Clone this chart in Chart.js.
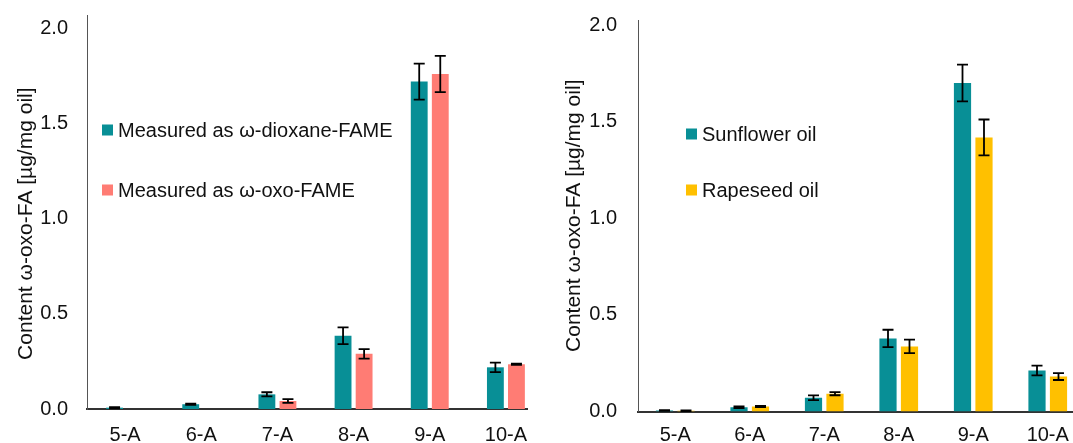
<!DOCTYPE html>
<html>
<head>
<meta charset="utf-8">
<script src="https://cdn.jsdelivr.net/npm/chart.js@4"></script>
<style>
  html, body { margin: 0; padding: 0; background: #fff; overflow: hidden; }
  .wrap { position: absolute; top: 0; height: 443px; overflow: hidden; }
</style>
</head>
<body>
<div class="wrap" style="left:0;width:528px;"><canvas id="chartLeft" width="548" height="443"></canvas></div>
<div class="wrap" style="left:540px;width:533px;"><canvas id="chartRight" width="549" height="443"></canvas></div>
<script>
const categories = ['5-A', '6-A', '7-A', '8-A', '9-A', '10-A'];
const yTicks = [0, 0.5, 1.0, 1.5, 2.0];
const yTitle = 'Content ω-oxo-FA [µg/mg oil]';

// left chart: same samples, two ways of measuring
const dioxaneVals = [0.007, 0.025, 0.077, 0.385, 1.72, 0.219];
const dioxaneErr = [0.003, 0.003, 0.011, 0.044, 0.095, 0.025];
const oxoVals = [0, 0, 0.042, 0.29, 1.76, 0.235];
const oxoErr = [0, 0, 0.01, 0.025, 0.095, 0.003];

// right chart: two oils
const sunflowerVals = [0.005, 0.022, 0.071, 0.378, 1.70, 0.212];
const sunflowerErr = [0.002, 0.004, 0.012, 0.045, 0.095, 0.025];
const rapeseedVals = [0.004, 0.026, 0.092, 0.337, 1.418, 0.181];
const rapeseedErr = [0.002, 0.003, 0.008, 0.035, 0.093, 0.018];

const TEAL = 'rgb(8, 143, 150)';
const PINK = 'rgb(255, 124, 116)';
const YELLOW = 'rgb(255, 192, 0)';
const FONT = "'Liberation Sans', Arial, sans-serif";

Chart.defaults.font.family = FONT;
Chart.defaults.color = '#111';

// error bars from dataset.errors
const errorBars = {
    id: 'errorBars',
    afterDatasetsDraw(chart) {
        const ctx = chart.ctx;
        const y = chart.scales.y;
        ctx.save();
        ctx.strokeStyle = '#000';
        ctx.lineWidth = 1.8;
        chart.data.datasets.forEach((ds, i) => {
            const meta = chart.getDatasetMeta(i);
            meta.data.forEach((bar, j) => {
                const v = ds.data[j], e = ds.errors[j];
                if (!e) return;
                const yHi = y.getPixelForValue(v + e);
                const yLo = y.getPixelForValue(v - e);
                const cap = 5.5;
                ctx.beginPath();
                ctx.moveTo(bar.x, yHi); ctx.lineTo(bar.x, yLo);
                ctx.moveTo(bar.x - cap, yHi); ctx.lineTo(bar.x + cap, yHi);
                ctx.moveTo(bar.x - cap, yLo); ctx.lineTo(bar.x + cap, yLo);
                ctx.stroke();
            });
        });
        ctx.restore();
    }
};

// legend drawn inside the plot
const innerLegend = {
    id: 'innerLegend',
    afterDraw(chart, args, opts) {
        const ctx = chart.ctx;
        ctx.save();
        ctx.font = '20px ' + FONT;
        ctx.textBaseline = 'middle';
        chart.data.datasets.forEach((ds, i) => {
            const yy = opts.y + i * opts.gap;
            ctx.fillStyle = ds.backgroundColor;
            ctx.fillRect(opts.x, yy - 5.5, 11, 11);
            ctx.fillStyle = '#111';
            ctx.fillText(ds.label, opts.x + 16, yy + 1);
        });
        ctx.restore();
    }
};

function makeChart(id, sets, o) {
    return new Chart(document.getElementById(id).getContext('2d'), {
        type: 'bar',
        data: {
            labels: categories,
            datasets: sets.map(s => ({
                label: s.label,
                data: s.data,
                errors: s.errors,
                backgroundColor: s.color,
                borderWidth: 0,
                categoryPercentage: o.cp,
                barPercentage: 0.8
            }))
        },
        options: {
            responsive: false,
            animation: false,
            layout: { padding: { top: o.top, right: 4, left: 0, bottom: 0 } },
            plugins: {
                legend: { display: false },
                tooltip: { enabled: false },
                innerLegend: o.legend
            },
            scales: {
                x: {
                    grid: { display: false, drawTicks: false },
                    border: { display: true, color: '#333', width: 2 },
                    ticks: { font: { size: 20 }, padding: o.xPad, maxRotation: 0 },
                    afterFit: (s) => { s.height = o.xHeight; }
                },
                y: {
                    min: 0,
                    max: o.max,
                    grid: { display: false, drawTicks: false },
                    border: { display: true, color: '#555', width: 1 },
                    afterBuildTicks: (s) => { s.ticks = yTicks.map(v => ({ value: v })); },
                    ticks: {
                        font: { size: 20 },
                        padding: o.yPad,
                        callback: (v) => v.toFixed(1)
                    },
                    title: {
                        display: true,
                        // trailing spaces nudge the rotated title a little lower
                        text: yTitle + '\u00a0'.repeat(o.titleShift),
                        font: { size: 21 },
                        padding: { top: o.titlePad, bottom: 0 }
                    },
                    afterFit: (s) => {
                        s.width = o.yWidth;
                        s.paddingTop = 0;
                        s.paddingBottom = 0;
                    }
                }
            }
        },
        plugins: [errorBars, innerLegend]
    });
}

makeChart('chartLeft', [
    { label: 'Measured as ω-dioxane-FAME', data: dioxaneVals, errors: dioxaneErr, color: TEAL },
    { label: 'Measured as ω-oxo-FAME', data: oxoVals, errors: oxoErr, color: PINK }
], { top: 15, max: 2.07, xHeight: 34, xPad: 14, yPad: 19, yWidth: 87, titlePad: 14, titleShift: 4, cp: 0.553,
     legend: { x: 102, y: 130, gap: 60 } });

makeChart('chartRight', [
    { label: 'Sunflower oil', data: sunflowerVals, errors: sunflowerErr, color: TEAL },
    { label: 'Rapeseed oil', data: rapeseedVals, errors: rapeseedErr, color: YELLOW }
], { top: 20, max: 2.026, xHeight: 31.5, xPad: 12, yPad: 21, yWidth: 98, titlePad: 22, titleShift: 0, cp: 0.577,
     legend: { x: 146, y: 134, gap: 56 } });
</script>
</body>
</html>
